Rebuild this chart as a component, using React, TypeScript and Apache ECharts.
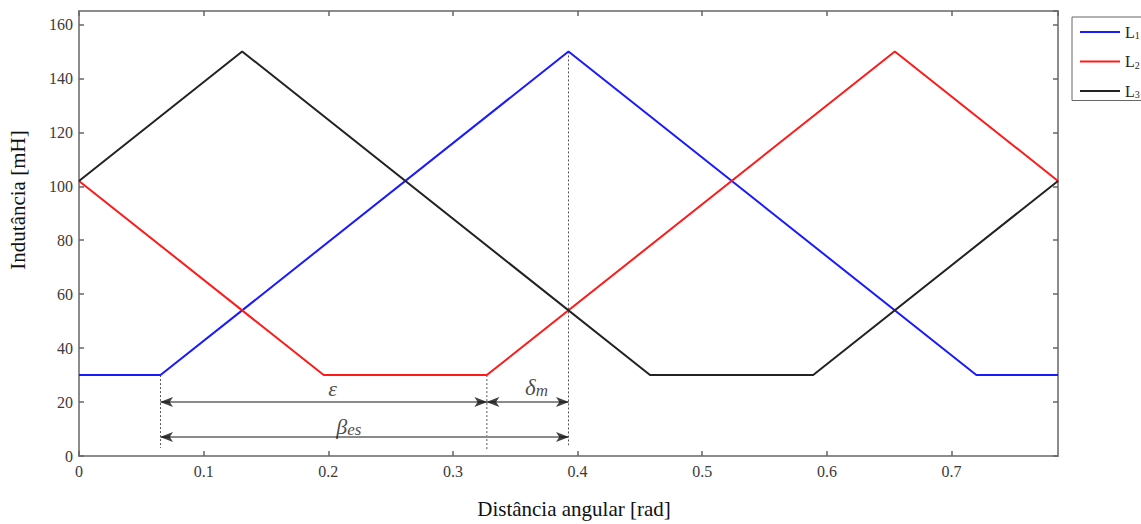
import React, { useEffect, useRef } from "react";
import * as echarts from "echarts";

// Inductance profiles (breakpoints of the piecewise-linear curves)
const xL1 = [0, 0.0654, 0.3927, 0.7199, 0.7854];
const yL1 = [30, 30, 150, 30, 30];
const xL2 = [0, 0.1963, 0.3272, 0.6545, 0.7854];
const yL2 = [102, 30, 30, 150, 102];
const xL3 = [0, 0.1309, 0.4581, 0.589, 0.7854];
const yL3 = [102, 150, 30, 30, 102];

const seriesNames = ["L1", "L2", "L3"];
const seriesColors = ["#1a1aff", "#ff1a1a", "#222222"];

// Annotation geometry (data coordinates)
const dottedX = [0.0654, 0.3272, 0.3927];
const dottedTop = [30, 30, 150];
const dottedBottom = [3, 2, 4];
const epsRow = 20;
const betaRow = 7;
const epsFrom = 0.0654;
const epsTo = 0.3272;
const deltaTo = 0.3927;

const labelEps = [0.2035, 25];
const labelDelta = [0.367, 25.5];
const labelBeta = [0.2165, 11];

const xTicksMax = 0.7854;
const yMax = 165;

const FONT = "Liberation Serif";

const arrowRight = "path://M0,0 L12,5 L0,10 L3,5 Z";
const arrowLeft = "path://M12,0 L0,5 L12,10 L9,5 Z";

function zip(xs: number[], ys: number[]) {
  return xs.map((x, i) => [x, ys[i]]);
}

export default function App() {
  const ref = useRef<HTMLDivElement>(null);
  useEffect(() => {
    if (!ref.current) return;
    const chart = echarts.init(ref.current, undefined, { renderer: "svg" });

    const curves = [
      [xL1, yL1],
      [xL2, yL2],
      [xL3, yL3],
    ].map(([xs, ys], i) => ({
      name: seriesNames[i],
      type: "line",
      data: zip(xs, ys),
      showSymbol: false,
      symbol: "none",
      color: seriesColors[i],
      lineStyle: { width: 2, color: seriesColors[i] },
      z: 3,
    }));

    const dotted = dottedX.map((x, i) => ({
      type: "line",
      data: [
        [x, dottedTop[i]],
        [x, dottedBottom[i]],
      ],
      symbol: "none",
      lineStyle: { width: 1, type: [2, 2], color: "#555" },
      z: 2,
      silent: true,
    }));

    const arrowLines = [
      [epsFrom, epsTo, epsRow],
      [epsTo, deltaTo, epsRow],
      [epsFrom, deltaTo, betaRow],
    ].map(([a, b, y]) => ({
      type: "line",
      data: [
        [a, y],
        [b, y],
      ],
      symbol: "none",
      lineStyle: { width: 2, color: "#8a8a8a" },
      z: 2,
      silent: true,
    }));

    const heads = {
      type: "scatter",
      silent: true,
      z: 4,
      data: [
        { value: [epsFrom, epsRow], symbol: arrowLeft, symbolOffset: [6, 0] },
        { value: [epsTo, epsRow], symbol: arrowRight, symbolOffset: [-6, 0] },
        { value: [epsTo, epsRow], symbol: arrowLeft, symbolOffset: [6, 0] },
        { value: [deltaTo, epsRow], symbol: arrowRight, symbolOffset: [-6, 0] },
        { value: [epsFrom, betaRow], symbol: arrowLeft, symbolOffset: [6, 0] },
        { value: [deltaTo, betaRow], symbol: arrowRight, symbolOffset: [-6, 0] },
      ],
      symbolSize: [13, 10],
      itemStyle: { color: "#111" },
    };

    const labels = {
      type: "scatter",
      silent: true,
      z: 5,
      symbolSize: 0,
      data: [
        { value: labelEps, label: { formatter: "{a|ε}" } },
        { value: labelDelta, label: { formatter: "{d|δ}{s|m}" } },
        { value: labelBeta, label: { formatter: "{a|β}{s|es}" } },
      ],
      label: {
        show: true,
        position: "inside",
        color: "#1a1a1a",
        rich: {
          a: { fontFamily: FONT, fontStyle: "italic", fontSize: 22, color: "#1a1a1a" },
          d: { fontFamily: FONT, fontStyle: "italic", fontSize: 23, color: "#1a1a1a" },
          s: {
            fontFamily: FONT,
            fontStyle: "italic",
            fontSize: 17,
            color: "#1a1a1a",
            padding: [7, 0, 0, 0],
          },
        },
      },
    };

    const axisCommon = {
      axisLine: { show: true, onZero: false, lineStyle: { color: "#8c8c8c", width: 2 } },
      axisTick: { show: true, inside: true, length: 5, lineStyle: { color: "#666", width: 1.5 } },
      splitLine: { show: false },
    };

    chart.setOption({
      animation: false,
      backgroundColor: "#fff",
      grid: { left: 79, right: 83, top: 11, bottom: 66, containLabel: false },
      legend: {
        data: seriesNames,
        orient: "vertical",
        left: 1072,
        top: 17,
        padding: [7, 30, 1, 8],
        itemWidth: 40,
        itemHeight: 2,
        itemGap: 13,
        icon: "rect",
        borderColor: "#666",
        borderWidth: 1,
        backgroundColor: "#fff",
        formatter: (n: string) => "L{s|" + n.slice(1) + "}",
        textStyle: {
          fontFamily: FONT,
          fontSize: 16,
          color: "#222",
          rich: { s: { fontFamily: FONT, fontSize: 10, color: "#222", padding: [7, 0, 0, 0] } },
        },
      },
      graphic: [
        {
          type: "text",
          x: 18,
          y: 200,
          rotation: Math.PI / 2,
          style: {
            text: "Indutância [mH]",
            fontFamily: FONT,
            fontSize: 21,
            fill: "#111",
            align: "center",
            verticalAlign: "middle",
          },
        },
      ],
      xAxis: [
        {
          type: "value",
          min: 0,
          max: xTicksMax,
          interval: 0.1,
          position: "bottom",
          ...axisCommon,
          axisLabel: {
            fontFamily: FONT,
            fontSize: 16,
            color: "#3a3a3a",
            margin: 7,
            showMaxLabel: false,
            formatter: (v: number) => (Math.abs(v) < 1e-9 ? "0" : v.toFixed(1)),
          },
          name: "Distância angular [rad]",
          nameLocation: "middle",
          nameGap: 42,
          nameTextStyle: {
            fontFamily: FONT,
            fontSize: 21,
            color: "#111",
            padding: [0, 0, 0, 11],
          },
        },
        {
          type: "value",
          min: 0,
          max: xTicksMax,
          interval: 0.1,
          position: "top",
          ...axisCommon,
          axisLabel: { show: false },
        },
      ],
      yAxis: [
        {
          type: "value",
          min: 0,
          max: yMax,
          interval: 20,
          position: "left",
          ...axisCommon,
          axisLabel: {
            fontFamily: FONT,
            fontSize: 16,
            color: "#3a3a3a",
            margin: 6,
            showMaxLabel: false,
          },
        },
        {
          type: "value",
          min: 0,
          max: yMax,
          interval: 20,
          position: "right",
          ...axisCommon,
          axisLabel: { show: false },
        },
      ],
      series: [...dotted, ...arrowLines, heads, labels, ...curves],
    });
    return () => chart.dispose();
  }, []);
  return (
    <div
      ref={ref}
      style={{ position: "absolute", left: 0, top: 0, width: 1141, height: 524 }}
    />
  );
}
